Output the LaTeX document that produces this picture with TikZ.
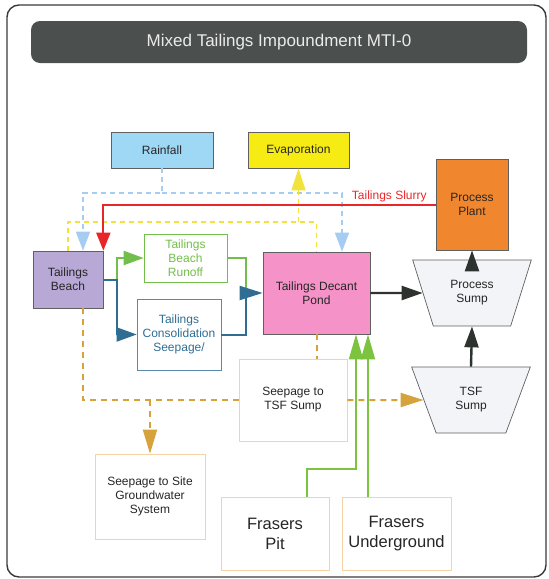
\documentclass[tikz,border=0pt]{standalone}
\usepackage{fontspec}
\setmainfont{Liberation Sans}
\usetikzlibrary{arrows.meta}
\usetikzlibrary{shapes.geometric}

\definecolor{framegrey}{HTML}{3A3A3A}
\definecolor{titlegrey}{HTML}{4B504E}
\definecolor{rainblue}{HTML}{9FD8F4}
\definecolor{evapyellow}{HTML}{F6EC14}
\definecolor{plantorange}{HTML}{F0872E}
\definecolor{beachlilac}{HTML}{B8A8D6}
\definecolor{pondpink}{HTML}{F592C8}
\definecolor{sumpgrey}{HTML}{F3F4F7}
\definecolor{runoffgreen}{HTML}{72BE4A}
\definecolor{seepblue}{HTML}{2F6D93}
\definecolor{rainlineblue}{HTML}{A6CCF2}
\definecolor{evaplineyellow}{HTML}{F2E23C}
\definecolor{slurryred}{HTML}{E8262A}
\definecolor{seeporange}{HTML}{D6A23C}
\definecolor{boxorange}{HTML}{F5D3A6}
\definecolor{minegreen}{HTML}{7CC440}
\definecolor{flowblack}{HTML}{2E3330}

\tikzset{
  fluxbox/.style={draw=gray!75!black, line width=0.7pt, align=center, text=black!85,
    font=\fontsize{12}{14}\selectfont},
  openbox/.style={fluxbox, draw=boxorange, fill=white},
  sumpshape/.style={fluxbox, trapezium, shape border rotate=180, trapezium angle=67,
    trapezium stretches=true, minimum width=119pt, minimum height=66pt, fill=sumpgrey},
  titlebar/.style={fill=titlegrey, rounded corners=9pt, minimum width=496pt, minimum height=42pt,
    text=white!92!black, font=\fontsize{17}{20}\selectfont},
  bigtip/.style={-{Triangle[length=#1, width=14pt]}},
  bigtip/.default=20pt,
  rainflow/.style={rainlineblue, line width=1.8pt, dash pattern=on 5pt off 4pt, bigtip=19pt},
  evapflow/.style={evaplineyellow, line width=1.8pt, dash pattern=on 5pt off 4pt},
  slurryflow/.style={slurryred, line width=2pt, bigtip=18pt},
  runoffflow/.style={runoffgreen, line width=2pt},
  seepflow/.style={seepblue, line width=2pt},
  seepdash/.style={seeporange, line width=2pt, dash pattern=on 6pt off 5pt},
  mineflow/.style={minegreen, line width=2pt, bigtip=25pt},
  blackflow/.style={flowblack, line width=2.4pt, bigtip=21pt}
}

\begin{document}
\begin{tikzpicture}[x=1pt, y=-1pt]
  \useasboundingbox (0,0) rectangle (549,579);
  \draw[framegrey, line width=1.4pt, rounded corners=12pt] (7,5) rectangle (546,577);
  \node[titlebar] (title) at (279,42) {Mixed Tailings Impoundment MTI-0};

  % boxes
  \node[fluxbox, fill=rainblue, minimum width=102pt, minimum height=36pt] (rain) at (162,150) {Rainfall};
  \node[fluxbox, fill=evapyellow, minimum width=101pt, minimum height=36pt] (evap) at (298.5,150) {Evaporation};
  \node[fluxbox, fill=plantorange, minimum width=72pt, minimum height=91pt] (plant) at (472,204.5) {Process\\Plant};
  \node[fluxbox, fill=beachlilac, minimum width=70pt, minimum height=57pt] (beach) at (68,279.5) {Tailings\\Beach};
  \node[fluxbox, draw=runoffgreen, text=runoffgreen, minimum width=83pt, minimum height=48pt] (runoff) at (185.5,258) {Tailings\\Beach\\Runoff};
  \node[fluxbox, draw=seepblue!80, text=seepblue, minimum width=84pt, minimum height=71pt] (consol) at (179,334.5) {Tailings\\Consolidation\\Seepage/};
  \node[fluxbox, fill=pondpink, minimum width=107pt, minimum height=82pt] (pond) at (316.5,293) {Tailings Decant\\Pond};
  \node[sumpshape] (psump) at (472,293) {Process\\Sump};
  \node[sumpshape] (tsump) at (471,400) {TSF\\Sump};
  \node[openbox, minimum width=108pt, minimum height=82pt] (seeptsf) at (293,400) {Seepage to\\TSF Sump};
  \node[openbox, minimum width=110pt, minimum height=85pt] (seepgw) at (150,496.5) {Seepage to Site\\Groundwater\\System};
  \node[openbox, minimum width=108pt, minimum height=73pt, font=\fontsize{16.5}{20}\selectfont] (pit) at (275,533.5) {Frasers\\Pit};
  \node[openbox, minimum width=109pt, minimum height=73pt, font=\fontsize{16.5}{20}\selectfont] (ug) at (396.5,533.5) {Frasers\\Underground};

  \coordinate (rainsplit) at (162,193);
  \coordinate (evapsplit) at (298.5,222);
  \coordinate (beachout) at ([xshift=14pt]beach.east);
  \coordinate (pondin) at ([xshift=-17pt]pond.west);

  % rainfall and evaporation
  \draw[rainflow] (rain.south) -- (rainsplit) -| ([xshift=15pt]beach.north);
  \draw[rainflow] (rainsplit) -| ([xshift=25.5pt]pond.north);
  \draw[evapflow] (beach.north) |- (evapsplit) -| (pond.north);
  \draw[evapflow, bigtip=22pt] (evapsplit) -- (evap.south);

  % slurry from the plant
  \draw[slurryflow] (plant.west) -| (beach.north east)
    node[pos=0, anchor=south east, xshift=-6pt, inner sep=2pt, text=slurryred,
      font=\fontsize{12}{14}\selectfont] {Tailings Slurry};

  % runoff and seepage to the pond
  \draw[runoffflow, bigtip] (beach.east) -- (beachout) |- (runoff.west);
  \draw[seepflow, bigtip] (beach.east) -- (beachout) |- (consol.west);
  \draw[runoffflow] (runoff.east) -| (pondin);
  \draw[seepflow, bigtip=23pt] (consol.east) -| (pondin) -- (pond.west);

  % pond and sumps
  \draw[blackflow] (pond.east) -- (psump.west);
  \draw[blackflow] (psump.north) -- (plant.south);
  \draw[blackflow] (tsump.north) -- (psump.south);

  % seepage
  \draw[seepdash] ([xshift=15pt]beach.south) |- (seeptsf.west);
  \draw[seepdash] (pond.south) -- (pond.south |- seeptsf.north);
  \draw[seepdash, bigtip=23pt] (seeptsf.east) -- (tsump.west);
  \draw[seepdash, bigtip=24pt] (seepgw.north |- seeptsf.west) -- (seepgw.north);

  % mine water
  \draw[mineflow] ([xshift=32pt]pit.north) -- ++(0,-28) -| ([xshift=39.5pt]pond.south);
  \draw[mineflow] ([xshift=-28.5pt]ug.north) -- ([xshift=-28.5pt]ug.north |- pond.south);
\end{tikzpicture}
\end{document}
